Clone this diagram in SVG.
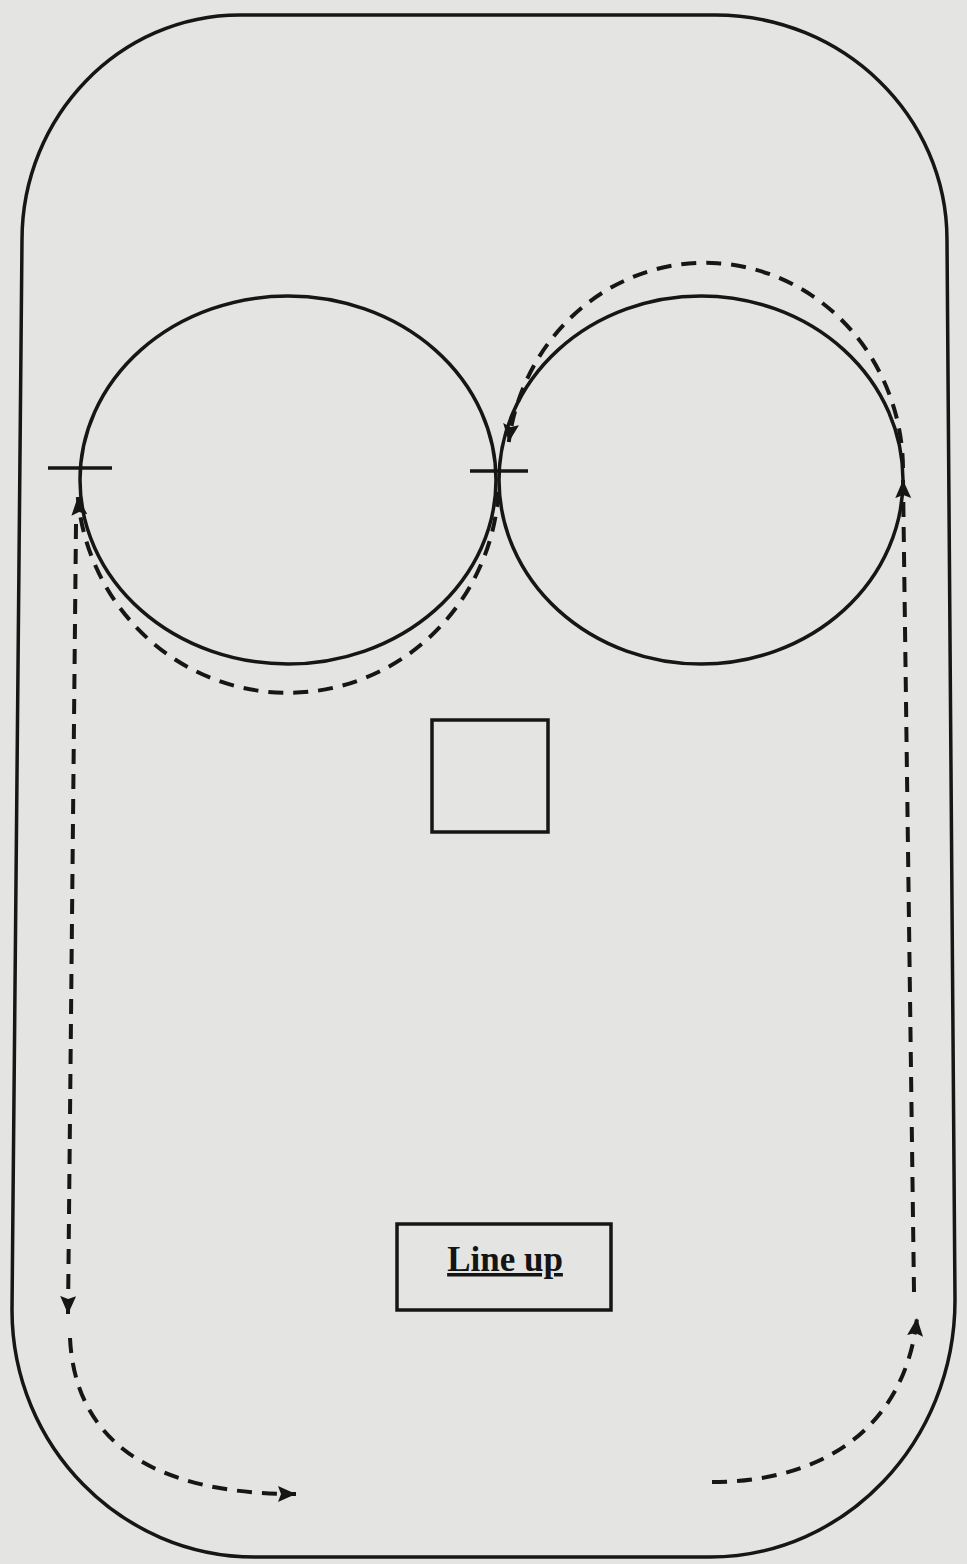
<svg xmlns="http://www.w3.org/2000/svg" width="967" height="1564" viewBox="0 0 967 1564">
<style>
.solid{fill:none;stroke:#161616;stroke-width:3.5}
.dash{fill:none;stroke:#161616;stroke-width:4;stroke-dasharray:15 10}
.lbl{font-family:"Liberation Serif",serif;font-weight:bold;font-size:35px;fill:#141414;text-decoration:underline}
</style>
<defs>
<marker id="ah" markerUnits="userSpaceOnUse" markerWidth="22" markerHeight="20" refX="18" refY="8" orient="auto">
<path d="M0,0 L18,8 L0,16 L3,8 Z" fill="#161616"/>
</marker>
</defs>
<rect width="967" height="1564" fill="#e4e4e2"/>
<g id="track">
<path class="solid" d="M 240 15 L 715 15 C 843 15 947 116 947 240 L 955 1300 C 955 1442 845 1557 710 1557 L 255 1557 C 121 1557 12 1446 12 1310 L 22 240 C 22 116 120 15 240 15 Z"/>
</g>
<g id="left-circle">
<ellipse class="solid" cx="288" cy="480" rx="208" ry="184"/>
<line class="solid" x1="48" y1="468" x2="112" y2="468"/>
</g>
<g id="right-circle">
<ellipse class="solid" cx="701" cy="480" rx="202" ry="184"/>
<line class="solid" x1="470" y1="471" x2="528" y2="471"/>
</g>
<g id="square">
<rect class="solid" x="432" y="720" width="116" height="112"/>
</g>
<g id="lineup">
<rect class="solid" x="397" y="1224" width="214" height="86"/>
<text class="lbl" x="505" y="1271" text-anchor="middle">Line up</text>
</g>
<g id="connectors">
<path class="dash" d="M 914 1292 L 903 480" marker-end="url(#ah)"/>
<path class="dash" d="M 903 468 A 198 207 0 0 0 508.8 442" marker-end="url(#ah)"/>
<path class="dash" d="M 498.5 492 A 211 215 0 0 1 77.8 497" marker-end="url(#ah)"/>
<path class="dash" d="M 76 524 L 68 1314" marker-end="url(#ah)"/>
<path class="dash" d="M 70 1338 C 75 1440 150 1494 296 1494" marker-end="url(#ah)"/>
<path class="dash" d="M 712 1482 C 820 1482 905 1430 917 1318" marker-end="url(#ah)"/>
</g>
</svg>
